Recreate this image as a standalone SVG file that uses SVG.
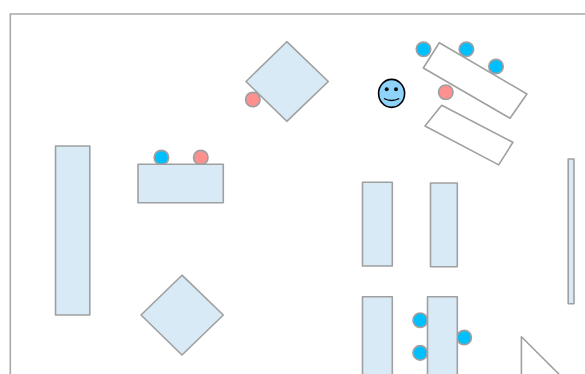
<svg xmlns="http://www.w3.org/2000/svg" width="585" height="374" viewBox="0 0 585 374">
<style>
.t{fill:#d7eaf6;stroke:#a0a0a0;stroke-width:1.6;stroke-linejoin:round}
.w{fill:#fff;stroke:#a0a0a0;stroke-width:1.6;stroke-linejoin:round}
.b{fill:#00bfff;stroke:#a0a0a0;stroke-width:1.7}
.p{fill:#ff9090;stroke:#a0a0a0;stroke-width:1.7}
</style>
<rect width="585" height="374" fill="#fff"/>
<path id="frame" d="M10.3 374V14H585" fill="none" stroke="#a8a8a8" stroke-width="1.6"/>
<g id="connectors"/>
<g id="seat-p1"><circle class="p" cx="252.8" cy="99.5" r="7.2"/></g>
<g id="table-diamond-top"><polygon class="t" points="286.8,41.7 328.3,81.5 286.8,121.3 246,81.5"/></g>
<g id="seat-b1"><circle class="b" cx="423.5" cy="49.3" r="7.2"/></g>
<g id="seat-b2"><circle class="b" cx="466.4" cy="49.3" r="7.2"/></g>
<g id="seat-b3"><circle class="b" cx="496" cy="66.5" r="7.2"/></g>
<g id="table-tilt-1"><polygon class="w" points="439.3,42.7 526.9,94 510,118.2 423.3,68"/></g>
<g id="seat-p2"><circle class="p" cx="445.8" cy="92.2" r="7.2"/></g>
<g id="table-tilt-2"><polygon class="w" points="441.7,105.3 512.9,142.3 498.7,164.9 425,126"/></g>
<g id="person">
<ellipse cx="391.6" cy="93.4" rx="13" ry="14" fill="#8fd3fb" stroke="#000" stroke-width="1.6"/>
<circle cx="386.7" cy="89.3" r="2" fill="#111"/>
<circle cx="396" cy="89.3" r="2" fill="#111"/>
<path d="M384 98.5Q391.5 102.5 399.2 98.5" fill="none" stroke="#000" stroke-width="1.4"/>
</g>
<g id="table-left"><rect class="t" x="55.5" y="146" width="34.3" height="169"/></g>
<g id="seat-b4"><circle class="b" cx="161.4" cy="157.5" r="7.2"/></g>
<g id="seat-p3"><circle class="p" cx="200.8" cy="157.5" r="7.2"/></g>
<g id="table-wide"><rect class="t" x="138" y="164.2" width="85.3" height="38.5"/></g>
<g id="table-diamond-bottom"><polygon class="t" points="182,275.2 223.3,315 182,355 141,315"/></g>
<g id="table-a"><rect class="t" x="362.5" y="182.3" width="29.8" height="83.7"/></g>
<g id="table-b"><rect class="t" x="430.5" y="183" width="26.8" height="83.7"/></g>
<g id="table-c"><rect class="t" x="362.5" y="296.7" width="29.8" height="90"/></g>
<g id="seat-b5"><circle class="b" cx="420.2" cy="320.2" r="7.2"/></g>
<g id="seat-b6"><circle class="b" cx="420.2" cy="352.9" r="7.2"/></g>
<g id="seat-b7"><circle class="b" cx="464.2" cy="337.5" r="7.2"/></g>
<g id="table-d"><rect class="t" x="427.5" y="296.7" width="29.8" height="90"/></g>
<g id="table-e"><rect class="t" x="568.2" y="159" width="5.8" height="144.7"/></g>
<g id="triangle"><polygon class="w" points="521.4,336.8 521.4,400 585,400"/></g>
</svg>
